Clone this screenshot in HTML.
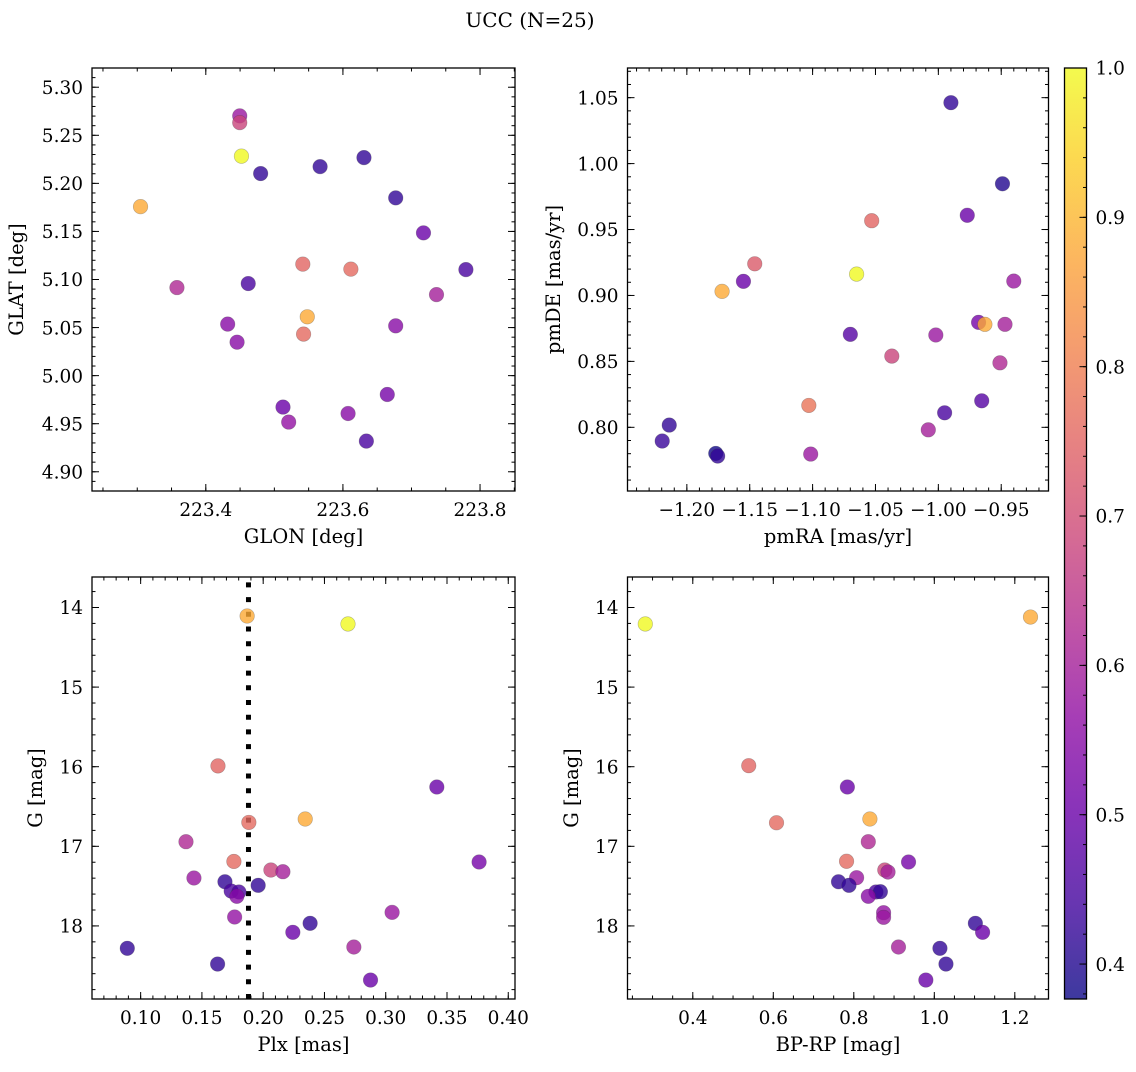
<!DOCTYPE html>
<html><head><meta charset="utf-8"><title>UCC (N=25)</title>
<style>
html,body{margin:0;padding:0;background:#fff;}
svg text{font-family:"DejaVu Serif","Liberation Serif",serif;fill:#000;}
</style></head>
<body>
<svg id="fig" xmlns="http://www.w3.org/2000/svg" width="1136" height="1067" viewBox="0 0 1136 1067">
<rect x="0" y="0" width="1136" height="1067" fill="#fff"/>
<text x="530" y="27" font-size="20" text-anchor="middle">UCC (N=25)</text>
<defs>
<linearGradient id="plasmaGrad" x1="0" y1="1" x2="0" y2="0"></linearGradient>
</defs>
<g id="panels"></g>
</svg>
<script>
// ---- Panel 1: GLON / GLAT ----
const glon = [223.4495,223.4495,223.452,223.480,223.5667,223.6307,223.677,223.7175,223.7794,223.3048,223.3579,223.4619,223.5415,223.6116,223.548,223.4319,223.4456,223.5426,223.677,223.7365,223.5126,223.5209,223.6075,223.6647,223.6342];
const glat = [5.2702,5.2632,5.2283,5.2102,5.2174,5.2268,5.1849,5.1485,5.1103,5.1758,5.0916,5.0958,5.116,5.1108,5.0612,5.0536,5.0348,5.0432,5.0518,5.0843,4.9673,4.9517,4.9606,4.9804,4.9319];
const probTL = [0.58,0.68,1.0,0.42,0.42,0.42,0.42,0.50,0.45,0.88,0.62,0.45,0.75,0.76,0.88,0.55,0.55,0.76,0.55,0.60,0.50,0.57,0.55,0.52,0.45];
// ---- Panel 2: pmRA / pmDE ----
const pmra = [-0.990,-0.949,-0.977,-1.053,-1.146,-1.065,-1.155,-1.172,-0.940,-1.070,-1.002,-0.968,-0.963,-0.947,-1.037,-0.951,-1.103,-0.9655,-0.995,-1.008,-1.1015,-1.214,-1.2196,-1.177,-1.1755];
const pmde = [1.0462,0.9847,0.9608,0.9567,0.924,0.9162,0.9107,0.9031,0.9109,0.8705,0.870,0.8796,0.8781,0.8781,0.854,0.8489,0.8166,0.8201,0.811,0.7981,0.7797,0.8017,0.7896,0.7802,0.7782];
const probTR = [0.42,0.40,0.50,0.75,0.73,1.0,0.50,0.88,0.58,0.47,0.58,0.52,0.88,0.60,0.68,0.62,0.78,0.47,0.45,0.60,0.58,0.42,0.43,0.38,0.42];
// ---- Panel 3: Plx / G ----
const plx = [0.1869,0.2692,0.1631,0.3417,0.1883,0.2343,0.137,0.1761,0.3762,0.2063,0.2161,0.1435,0.1688,0.1959,0.1739,0.1802,0.1785,0.1767,0.3052,0.2383,0.2242,0.274,0.0891,0.1628,0.2876];
const gmagBL = [14.107,14.207,15.99,16.255,16.70,16.657,16.942,17.19,17.197,17.298,17.319,17.398,17.445,17.49,17.562,17.574,17.628,17.888,17.83,17.967,18.08,18.265,18.281,18.479,18.68];
const probBL = [0.88,1.0,0.75,0.50,0.76,0.88,0.62,0.76,0.52,0.68,0.60,0.58,0.42,0.42,0.45,0.45,0.55,0.57,0.58,0.42,0.50,0.60,0.42,0.42,0.50];
const plxLine = [0.188];
// ---- Panel 4: BP-RP / G ----
const bprp = [0.282,1.239,0.539,0.784,0.608,0.84,0.836,0.782,0.936,0.877,0.885,0.807,0.762,0.788,0.855,0.866,0.836,0.874,0.874,1.102,1.120,0.911,1.014,1.029,0.979];
const gmagBR = [14.207,14.12,15.987,16.255,16.704,16.657,16.942,17.188,17.197,17.298,17.323,17.394,17.445,17.49,17.574,17.570,17.628,17.834,17.892,17.967,18.08,18.265,18.281,18.479,18.68];
const probBR = [1.0,0.88,0.75,0.50,0.76,0.88,0.62,0.76,0.52,0.68,0.60,0.58,0.42,0.42,0.45,0.42,0.55,0.57,0.58,0.42,0.50,0.60,0.42,0.42,0.50];
// ---- Colorbar ----
const cbarTicks = [0.4,0.5,0.6,0.7,0.8,0.9,1.0];
const cbarRange = [0.3766,1.0];

const NS = "http://www.w3.org/2000/svg";
const plasma = [[0,"#0d0887"],[0.1,"#41049d"],[0.2,"#6a00a8"],[0.3,"#8f0da4"],[0.4,"#b12a90"],[0.5,"#cc4778"],[0.6,"#e16462"],[0.7,"#f2844b"],[0.8,"#fca636"],[0.9,"#fcce25"],[1.0,"#f0f921"]];
function hex2rgb(h){return [parseInt(h.substr(1,2),16),parseInt(h.substr(3,2),16),parseInt(h.substr(5,2),16)];}
function cmap(v){
  let t=(v-cbarRange[0])/(cbarRange[1]-cbarRange[0]); t=Math.max(0,Math.min(1,t));
  for(let i=0;i<plasma.length-1;i++){
    const a=plasma[i],b=plasma[i+1];
    if(t<=b[0]){const f=(t-a[0])/(b[0]-a[0]);const ca=hex2rgb(a[1]),cb=hex2rgb(b[1]);
      return "rgb("+ca.map((c,k)=>Math.round(c+(cb[k]-c)*f)).join(",")+")";}
  }
  return plasma[plasma.length-1][1];
}
function mk(tag,attrs,parent){const e=document.createElementNS(NS,tag);for(const k in attrs)e.setAttribute(k,attrs[k]);parent.appendChild(e);return e;}
const root=document.getElementById("panels");

function fmt(v,d){const s=Math.abs(v).toFixed(d);return (v<0?"\u2212":"")+s;}

function panel(o){
  const g=mk("g",{},root);
  
  
  const sx=v=>o.L+(v-o.xlim[0])/(o.xlim[1]-o.xlim[0])*(o.R-o.L);
  const sy=o.yinv ? (v=>o.T+(v-o.ylim[0])/(o.ylim[1]-o.ylim[0])*(o.B-o.T))
                  : (v=>o.B-(v-o.ylim[0])/(o.ylim[1]-o.ylim[0])*(o.B-o.T));
  const tg=mk("g",{stroke:"#000","stroke-width":1},g);
  
  
  function xt(step,len,labels,dec){
    const n0=Math.ceil(Math.min(o.xlim[0],o.xlim[1])/step-1e-6), n1=Math.floor(Math.max(o.xlim[0],o.xlim[1])/step+1e-6);
    for(let n=n0;n<=n1;n++){const v=n*step;const x=sx(v);
      mk("line",{x1:x,y1:o.B,x2:x,y2:o.B-len},tg);mk("line",{x1:x,y1:o.T,x2:x,y2:o.T+len},tg);
      if(labels){const t=mk("text",{x:x,y:o.B+25,"font-size":18.5,"text-anchor":"middle",stroke:"none"},g);t.textContent=fmt(v,dec);
        
        }
    }
  }
  function yt(step,len,labels,dec){
    const lo=Math.min(o.ylim[0],o.ylim[1]),hi=Math.max(o.ylim[0],o.ylim[1]);
    const n0=Math.ceil(lo/step-1e-6), n1=Math.floor(hi/step+1e-6);
    for(let n=n0;n<=n1;n++){const v=n*step;const y=sy(v);
      mk("line",{x1:o.L,y1:y,x2:o.L+len,y2:y},tg);mk("line",{x1:o.R,y1:y,x2:o.R-len,y2:y},tg);
      if(labels){const t=mk("text",{x:o.L-9,y:y+6.7,"font-size":18.5,"text-anchor":"end",stroke:"none"},g);t.textContent=fmt(v,dec);
        
        }
    }
  }
  xt(o.xminor,3.5,false);xt(o.xmajor,7,true,o.xdec);
  yt(o.yminor,3.5,false);yt(o.ymajor,7,true,o.ydec);
  if(o.vline){for(let i=0;i<o.vline.length;i++){const x=sx(o.vline[i]);
    const l=mk("line",{x1:x,y1:o.B,x2:x,y2:o.T,stroke:"#000","stroke-width":5,"stroke-dasharray":"5,9.7"},g);
    
    }}
  const pg=mk("g",{},g);
  
  
  for(let i=0;i<o.xs.length;i++){
    const c=mk("circle",{cx:sx(o.xs[i]),cy:sy(o.ys[i]),r:7.3,fill:cmap(o.cs[i]),"fill-opacity":0.8,stroke:"rgba(60,60,60,0.35)","stroke-width":0.6},pg);
    
    
  }
  const f=mk("rect",{x:o.L,y:o.T,width:o.R-o.L,height:o.B-o.T,fill:"none",stroke:"#000","stroke-width":1.3},g);
  
  
  const xl=mk("text",{x:(o.L+o.R)/2,y:o.B+52,"font-size":19.5,"text-anchor":"middle"},g);xl.textContent=o.xlabel;
  
  
  const cy=(o.T+o.B)/2;
  const yl=mk("text",{x:o.ylx,y:cy,"font-size":19.5,"text-anchor":"middle",transform:"rotate(-90 "+o.ylx+" "+cy+")"},g);yl.textContent=o.ylabel;
  
  
}

panel({name:"glon-glat-panel",L:92,R:515,T:68,B:491,xlim:[223.234,223.851],ylim:[4.880,5.320],xmajor:0.2,xminor:0.05,xdec:1,ymajor:0.05,yminor:0.01,ydec:2,xs:glon,ys:glat,cs:probTL,xlabel:"GLON [deg]",ylabel:"GLAT [deg]",ylx:23});
panel({name:"pm-panel",L:627.5,R:1048.5,T:68,B:491,xlim:[-1.2472,-0.9124],ylim:[0.7517,1.0725],xmajor:0.05,xminor:0.01,xdec:2,ymajor:0.05,yminor:0.01,ydec:2,xs:pmra,ys:pmde,cs:probTR,xlabel:"pmRA [mas/yr]",ylabel:"pmDE [mas/yr]",ylx:560});
panel({name:"plx-g-panel",L:92,R:515,T:577,B:999,xlim:[0.0603,0.4055],ylim:[13.617,18.918],yinv:true,xmajor:0.05,xminor:0.01,xdec:2,ymajor:1,yminor:0.2,ydec:0,xs:plx,ys:gmagBL,cs:probBL,vline:plxLine,xlabel:"Plx [mas]",ylabel:"G [mag]",ylx:42});
panel({name:"cmd-panel",L:627.5,R:1048.5,T:577,B:999,xlim:[0.2378,1.2837],ylim:[13.617,18.918],yinv:true,xmajor:0.2,xminor:0.05,xdec:1,ymajor:1,yminor:0.2,ydec:0,xs:bprp,ys:gmagBR,cs:probBR,xlabel:"BP-RP [mag]",ylabel:"G [mag]",ylx:578});

(function(){
  const grad=document.getElementById("plasmaGrad");
  for(let i=0;i<plasma.length;i++){mk("stop",{offset:plasma[i][0],"stop-color":plasma[i][1]},grad);}
  const L=1064.5,R=1086.5,T=68,B=999;
  const g=mk("g",{},root);
  
  
  mk("rect",{x:L,y:T,width:R-L,height:B-T,fill:"url(#plasmaGrad)","fill-opacity":0.8},g);
  const sy=v=>B-(v-cbarRange[0])/(cbarRange[1]-cbarRange[0])*(B-T);
  for(let n=Math.ceil(cbarRange[0]/0.02-1e-6);n<=Math.floor(cbarRange[1]/0.02+1e-6);n++){
    const y=sy(n*0.02);mk("line",{x1:R,y1:y,x2:R-3.5,y2:y,stroke:"#000","stroke-width":1},g);}
  for(let i=0;i<cbarTicks.length;i++){const y=sy(cbarTicks[i]);
    mk("line",{x1:R,y1:y,x2:R-7,y2:y,stroke:"#000","stroke-width":1},g);
    const t=mk("text",{x:R+9,y:y+6.7,"font-size":18.5},g);t.textContent=cbarTicks[i].toFixed(1);
    
    }
  mk("rect",{x:L,y:T,width:R-L,height:B-T,fill:"none",stroke:"#000","stroke-width":1.3},g);
})();
</script>
</body></html>
